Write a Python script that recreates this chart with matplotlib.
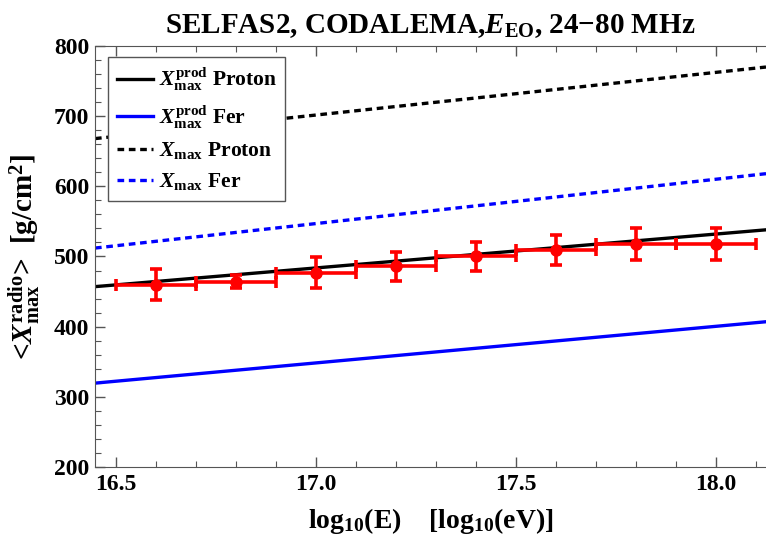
import matplotlib
matplotlib.use('Agg')
from matplotlib import pyplot as plt
from matplotlib.ticker import MultipleLocator

# Data
log_e = [16.6, 16.8, 17.0, 17.2, 17.4, 17.6, 17.8, 18.0]
xmax_radio = [460, 464, 477, 486, 500, 509, 518, 518]
xmax_err = [22, 9, 22, 21, 20, 21, 23, 23]
bin_half_width = [0.1] * 8

# Model lines (linear in log10 E), values at the two ends of the axis
line_x = [16.448, 18.125]
prod_proton = [457, 538]
prod_iron = [319.5, 407]
xmax_proton = [668, 770]
xmax_iron = [512, 618]

plt.rcParams['font.family'] = 'Liberation Serif'
plt.rcParams['font.weight'] = 'bold'
plt.rcParams['mathtext.fontset'] = 'custom'
plt.rcParams['mathtext.rm'] = 'Liberation Serif:bold'
plt.rcParams['mathtext.it'] = 'Liberation Serif:bold:italic'
plt.rcParams['mathtext.bf'] = 'Liberation Serif:bold'

fig = plt.figure(figsize=(7.66, 5.39), dpi=100)
ax = fig.add_axes([0.124, 0.1336, 0.876, 0.7811])

dots = (0, (2.0, 1.4))
ax.plot(line_x, prod_proton, c='black', lw=2.4,
        label=r'$X_{\rm max}^{\rm prod}$ Proton')
ax.plot(line_x, prod_iron, c='blue', lw=2.4,
        label=r'$X_{\rm max}^{\rm prod}$ Fer')
ax.plot(line_x, xmax_proton, c='black', lw=2.4, ls=dots,
        label=r'$X_{\rm max}$ Proton')
ax.plot(line_x, xmax_iron, c='blue', lw=2.4, ls=dots,
        label=r'$X_{\rm max}$ Fer')

ax.errorbar(log_e, xmax_radio, xerr=bin_half_width, yerr=xmax_err,
            fmt='o', color='red', ms=8, elinewidth=2.6, capsize=4,
            capthick=2.6, zorder=5)

ax.set_xlim(line_x[0], line_x[1])
ax.set_ylim(200, 800)
ax.xaxis.set_major_locator(MultipleLocator(0.5))
ax.xaxis.set_minor_locator(MultipleLocator(0.1))
ax.yaxis.set_major_locator(MultipleLocator(100))
ax.yaxis.set_minor_locator(MultipleLocator(20))
ax.xaxis.set_major_formatter(plt.FormatStrFormatter('%.1f'))
ax.tick_params(which='both', direction='in', top=True, right=False,
               colors='#555555', labelcolor='black', labelsize=17)
ax.tick_params(which='major', length=7, width=1)
ax.tick_params(which='minor', length=4, width=0.8)
ax.tick_params(axis='y', pad=4)
ax.tick_params(axis='x', pad=5)
ax.spines['right'].set_visible(False)
for side in ('left', 'bottom', 'top'):
    ax.spines[side].set_color('#555555')

ax.set_title(r'SELFAS2, CODALEMA,$E_{\rm EO}$, 24$-$80 MHz',
             fontsize=21, fontweight='bold', pad=9)
ax.set_xlabel(r'log$_{10}$(E)    [log$_{10}$(eV)]', fontsize=20,
              fontweight='bold', labelpad=8)
ax.set_ylabel(r'<$X_{\rm max}^{\rm radio}$>  [g/cm$^2$]', fontsize=21,
              fontweight='bold', labelpad=8)

leg = ax.legend(loc='upper left', bbox_to_anchor=(108 / 766, 1 - 57 / 539),
                bbox_transform=fig.transFigure, fontsize=15.5, frameon=True,
                fancybox=False, framealpha=1, borderaxespad=0,
                handlelength=1.7, handletextpad=0.25, labelspacing=0.45,
                borderpad=0.4)
leg.get_frame().set_edgecolor('#555555')
leg.get_frame().set_linewidth(1.0)

fig.savefig('out.png', dpi=100)
